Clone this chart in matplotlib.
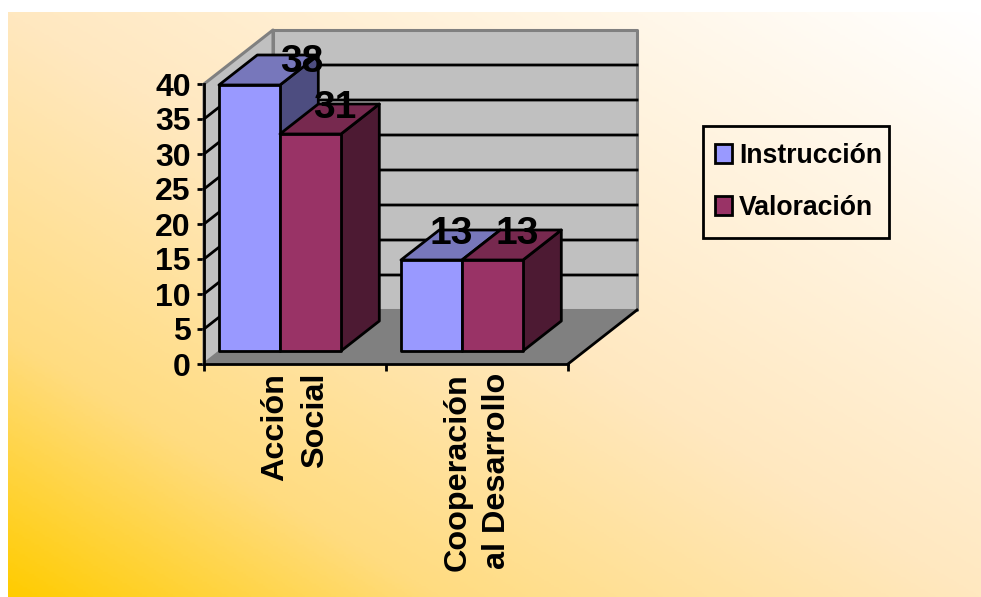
import numpy as np
import matplotlib.pyplot as plt
from matplotlib.colors import LinearSegmentedColormap
from matplotlib.patches import Patch, Polygon, Rectangle

plt.rcParams['font.family'] = ['Liberation Sans', 'DejaVu Sans']
plt.rcParams['font.weight'] = 'bold'

categories = ['Acción\nSocial', 'Cooperación\nal Desarrollo']
series_names = ['Instrucción', 'Valoración']
instruccion = [38, 13]
valoracion = [31, 13]
y_ticks = [0, 5, 10, 15, 20, 25, 30, 35, 40]

face_colors = ['#9999FF', '#993366']
top_colors = ['#7777BB', '#77294F']
side_colors = ['#4D4D80', '#4D1A33']

W, H = 981, 597
LW = 2.0
fig = plt.figure(figsize=(W / 100, H / 100), dpi=100, facecolor='white')

# diagonal fill behind everything, gold in the lower left, white in the upper right
bg = fig.add_axes([8 / W, 0, 973 / W, 585 / H], zorder=-1)
u, v = np.meshgrid(np.linspace(0, 1, 400), np.linspace(0, 1, 300))
cmap = LinearSegmentedColormap.from_list(
    'fill', [(0, '#FFCC00'), (0.22, '#FFDC80'), (0.5, '#FFE8C0'), (1, '#FFFFFF')])
bg.imshow((u + v) / 2, origin='lower', cmap=cmap, vmin=0, vmax=1, aspect='auto')
bg.axis('off')

ax = fig.add_axes([204 / W, (H - 364) / H, 364 / W, 280 / H])
ax.set_xlim(0, 2)
ax.set_ylim(0, 40)
ax.patch.set_visible(False)

# oblique projection: depth 1 is the back wall
DX = 69 / 182
DV = 54 / 7


def proj(x, val, d=0.0):
    return (x + d * DX, val + d * DV)


def poly(points, fc, ec='black', lw=LW, z=2):
    ax.add_patch(Polygon([proj(*p) for p in points], closed=True, facecolor=fc,
                         edgecolor=ec, linewidth=lw, clip_on=False, zorder=z,
                         joinstyle='round'))


# walls and floor
poly([(0, 0, 1), (2, 0, 1), (2, 40, 1), (0, 40, 1)], '#C0C0C0', '#808080', 2.2)
poly([(0, 0, 0), (0, 0, 1), (0, 40, 1), (0, 40, 0)], '#C0C0C0', '#808080', 2.2)
poly([(0, 0, 0), (2, 0, 0), (2, 0, 1), (0, 0, 1)], '#808080', 'none', 0)
ax.plot(*zip(proj(2, 0, 0), proj(2, 0, 1)), color='black', lw=LW, clip_on=False, zorder=2)

for t in y_ticks[1:-1]:
    pts = [proj(0, t, 0), proj(0, t, 1), proj(2, t, 1)]
    ax.plot(*zip(*pts), color='black', lw=LW, clip_on=False, zorder=2)

# bars
bar_w = 61 / 182
start = -0.009
d0 = 13 / 54
d1 = d0 + 30 / 54
label_shift = [[(52, 5), (24, 8)], [(20, 8), (25, 8)]]

for g in range(len(categories)):
    for i, vals in enumerate([instruccion, valoracion]):
        x0 = g + start + i * bar_w
        x1 = x0 + bar_w
        val = vals[g]
        z = 3 + g * 2 + i
        poly([(x1, 0, d0), (x1, 0, d1), (x1, val, d1), (x1, val, d0)], side_colors[i], z=z)
        poly([(x0, val, d0), (x1, val, d0), (x1, val, d1), (x0, val, d1)], top_colors[i], z=z)
        poly([(x0, 0, d0), (x1, 0, d0), (x1, val, d0), (x0, val, d0)], face_colors[i], z=z)
        sx, sy = label_shift[g][i]
        ax.annotate(str(val), proj((x0 + x1) / 2, val, d0), xytext=(sx, sy),
                    textcoords='offset pixels', ha='center', va='bottom',
                    fontsize=28, fontweight='bold', color='black', zorder=20,
                    annotation_clip=False)

# axes
for name in ['top', 'right']:
    ax.spines[name].set_visible(False)
for name in ['left', 'bottom']:
    ax.spines[name].set_linewidth(LW)
    ax.spines[name].set_zorder(2.5)
ax.set_yticks(y_ticks)
ax.set_yticklabels([str(t) for t in y_ticks], fontsize=23)
ax.set_xticks([0, 1, 2])
ax.set_xticklabels([])
ax.set_xticks([0.5, 1.5], minor=True)
ax.set_xticklabels(categories, minor=True, rotation=90, fontsize=23.3, ha='center',
                   va='top', multialignment='right', linespacing=1.42)
ax.tick_params(axis='both', which='major', length=5, width=LW, pad=3)
ax.tick_params(axis='y', which='major', pad=4.5)
ax.tick_params(axis='x', which='minor', length=0, pad=6.5)

# legend box is drawn apart so its margins can differ per side
fig.add_artist(Rectangle((703 / W, 1 - 238 / H), 186 / W, 112 / H, transform=fig.transFigure,
                         facecolor='none', edgecolor='black', linewidth=LW))
handles = [Patch(facecolor=c, edgecolor='black', linewidth=LW) for c in face_colors]
fig.legend(handles, series_names, loc='upper left', bbox_to_anchor=(715 / W, 1 - 143 / H),
           borderaxespad=0, borderpad=0, frameon=False, fontsize=19.2, handlelength=0.64,
           handleheight=0.7, handletextpad=0.26, labelspacing=0.98)

fig.savefig('out.png', dpi=100)
